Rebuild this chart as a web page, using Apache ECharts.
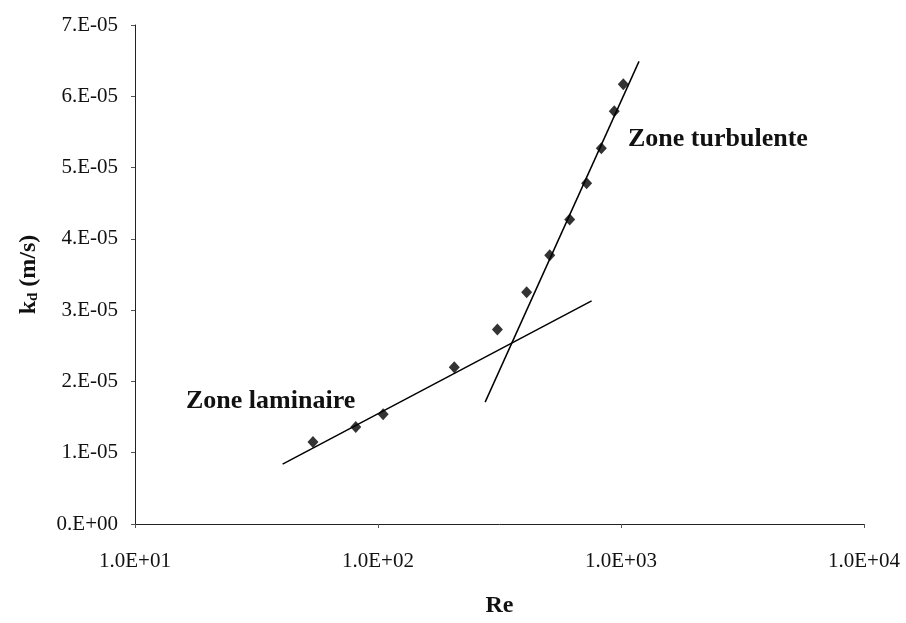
<!DOCTYPE html>
<html>
<head>
<meta charset="utf-8">
<script src="https://cdn.jsdelivr.net/npm/echarts@6/dist/echarts.min.js"></script>
<style>
html, body { margin: 0; padding: 0; background: #fff; }
#main { width: 906px; height: 623px; }
</style>
</head>
<body>
<div id="main"></div>
<script>
// measured points
var reValues = [54, 81, 105, 206, 310, 409, 509, 615, 722, 830, 938, 1022];
var kdValues = [1.15e-5, 1.36e-5, 1.54e-5, 2.20e-5, 2.73e-5, 3.25e-5, 3.77e-5, 4.27e-5, 4.78e-5, 5.27e-5, 5.79e-5, 6.17e-5];

// fitted lines (end points)
var laminarRe = [40.5, 757];
var laminarKd = [0.84e-5, 3.13e-5];
var turbulentRe = [276, 1186];
var turbulentKd = [1.71e-5, 6.49e-5];

var xTickLabels = ['1.0E+01', '1.0E+02', '1.0E+03', '1.0E+04'];
var yTickLabels = ['0.E+00', '1.E-05', '2.E-05', '3.E-05', '4.E-05', '5.E-05', '6.E-05', '7.E-05'];

function zip(a, b) {
	var out = [];
	for (var i = 0; i < a.length; i++) out.push([a[i], b[i]]);
	return out;
}

var serif = '"Liberation Serif", "DejaVu Serif", serif';

var option = {
	backgroundColor: '#fff',
	animation: false,
	grid: { left: 135, right: 42, top: 25, bottom: 88 },
	xAxis: {
		type: 'log',
		logBase: 10,
		min: 10,
		max: 10000,
		name: 'Re',
		nameLocation: 'middle',
		nameGap: 70,
		nameTextStyle: { fontFamily: serif, fontWeight: 'bold', fontSize: 24, color: '#111' },
		axisLine: { lineStyle: { color: '#222', width: 1 } },
		axisTick: { show: true, length: 4, lineStyle: { color: '#555' } },
		minorTick: { show: false },
		splitLine: { show: false },
		axisLabel: {
			margin: 27,
			fontFamily: serif,
			fontSize: 21,
			color: '#111',
			formatter: function (v) {
				var i = Math.round(Math.log10(v)) - 1;
				return xTickLabels[i];
			}
		}
	},
	yAxis: {
		type: 'value',
		min: 0,
		max: 7e-5,
		interval: 1e-5,
		name: '{b|k}{s|d}{b| (m/s)}',
		nameLocation: 'middle',
		nameGap: 94,
		nameRotate: 90,
		nameTextStyle: {
			rich: {
				b: { fontFamily: serif, fontWeight: 'bold', fontSize: 24, color: '#111' },
				s: { fontFamily: serif, fontWeight: 'bold', fontSize: 15, color: '#111', verticalAlign: 'bottom', padding: [9, 0, 0, 0] }
			}
		},
		axisLine: { show: true, lineStyle: { color: '#222', width: 1 } },
		axisTick: { show: true, length: 4, lineStyle: { color: '#555' } },
		splitLine: { show: false },
		axisLabel: {
			margin: 17,
			fontFamily: serif,
			fontSize: 21,
			color: '#111',
			formatter: function (v) {
				return yTickLabels[Math.round(v / 1e-5)];
			}
		}
	},
	series: [
		{
			name: 'laminaire',
			type: 'line',
			data: zip(laminarRe, laminarKd),
			symbol: 'none',
			lineStyle: { color: '#000', width: 1.5 },
			z: 2
		},
		{
			name: 'turbulente',
			type: 'line',
			data: zip(turbulentRe, turbulentKd),
			symbol: 'none',
			lineStyle: { color: '#000', width: 1.5 },
			z: 2
		},
		{
			name: 'kd',
			type: 'scatter',
			data: zip(reValues, kdValues),
			symbol: 'diamond',
			symbolSize: [11, 12],
			itemStyle: { color: '#000' },
			z: 3
		}
	],
	graphic: [
		{
			type: 'text',
			left: 186,
			top: 388,
			style: { text: 'Zone laminaire', font: 'bold 26px ' + serif, fill: '#111' }
		},
		{
			type: 'text',
			left: 628,
			top: 126,
			style: { text: 'Zone turbulente', font: 'bold 26px ' + serif, fill: '#111' }
		}
	]
};

var chart = echarts.init(document.getElementById('main'));
chart.setOption(option);
</script>
</body>
</html>
